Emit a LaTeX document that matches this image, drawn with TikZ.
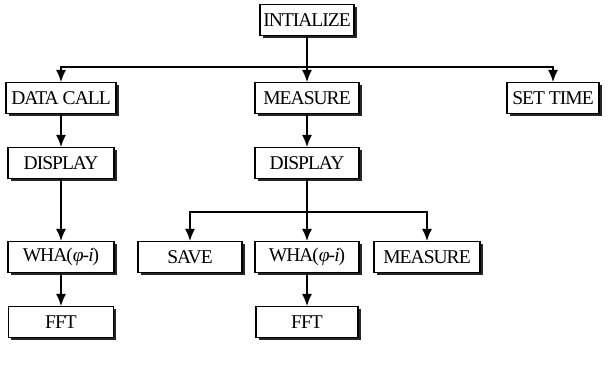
\documentclass[tikz,border=0pt]{standalone}
\usepackage{fontspec}
\setmainfont{Liberation Serif}
\newfontfamily\boxfont[LetterSpace=-5]{Liberation Serif}
\usetikzlibrary{arrows.meta,shadows}
\begin{document}
\begin{tikzpicture}[x=1pt,y=-1pt,
  box/.style={draw, line width=1.1pt, fill=white, minimum height=31pt, inner sep=0pt,
    font=\boxfont\fontsize{19.5}{20}\selectfont,
    drop shadow={shadow xshift=2.5pt, shadow yshift=-2.5pt, fill=black!85, opacity=1}},
  arr/.style={line width=1.4pt, -{Latex[length=12pt,width=10pt]}},
  ln/.style={line width=1.4pt}]
\useasboundingbox (0,0) rectangle (610,369);
% row 1
\node[box, minimum width=94pt] (init) at (307,20) {INTIALIZE};
% row 2
\node[box, minimum width=110pt] (datacall) at (61,98) {DATA CALL};
\node[box, minimum width=104pt] (meas1) at (307,98) {MEASURE};
\node[box, minimum width=92pt] (settime) at (553,98) {SET TIME};
% row 3
\node[box, minimum width=106pt] (disp1) at (61,163) {DISPLAY};
\node[box, minimum width=104pt] (disp2) at (307,163) {DISPLAY};
% row 4
\node[box, minimum width=106pt] (wha1) at (61,257) {WHA(\textit{φ-i})};
\node[box, minimum width=104pt] (save) at (190,257) {SAVE};
\node[box, minimum width=104pt] (wha2) at (307,257) {WHA(\textit{φ-i})};
\node[box, minimum width=106pt] (meas2) at (427,257) {MEASURE};
% row 5
\node[box, minimum width=105pt] (fft1) at (61,322) {FFT};
\node[box, minimum width=102pt] (fft2) at (307,322) {FFT};
% connectors
\coordinate (j1) at (307,67);
\coordinate (j2) at (307,212);
\draw[ln] (init) -- (j1);
\draw[arr] (j1) -| (datacall);
\draw[arr] (j1) -| (settime);
\draw[arr] (init) -- (meas1);
\draw[arr] (datacall) -- (disp1);
\draw[arr] (disp1) -- (wha1);
\draw[arr] (wha1) -- (fft1);
\draw[arr] (meas1) -- (disp2);
\draw[ln] (disp2) -- (j2);
\draw[arr] (j2) -| (save);
\draw[arr] (j2) -| (meas2);
\draw[arr] (disp2) -- (wha2);
\draw[arr] (wha2) -- (fft2);
\end{tikzpicture}
\end{document}
